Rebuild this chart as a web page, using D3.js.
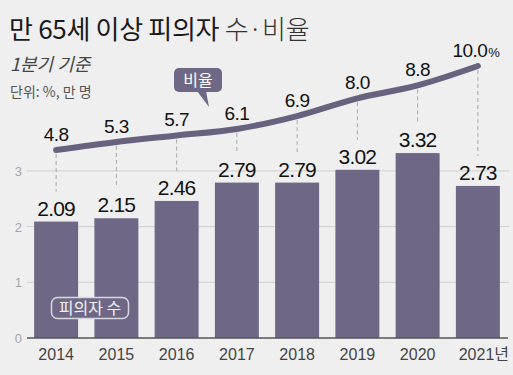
<!DOCTYPE html>
<html>
<head>
<meta charset="utf-8">
<script src="https://cdn.jsdelivr.net/npm/d3@7"></script>
<style>
  html, body { margin: 0; padding: 0; background: #efefef; }
  svg { display: block; }
  .num { font-family: "Liberation Sans", Arial, sans-serif; fill: #111; }
  .kr { font-family: "Noto Sans CJK KR", "Noto Sans", sans-serif; }
</style>
</head>
<body>
<div id="chart"></div>
<script>
// values
var years = ['2014', '2015', '2016', '2017', '2018', '2019', '2020', '2021'];
var yearLabels = ['2014', '2015', '2016', '2017', '2018', '2019', '2020', '2021년'];
var suspects = [2.09, 2.15, 2.46, 2.79, 2.79, 3.02, 3.32, 2.73];   // 만 명
var ratio = [4.8, 5.3, 5.7, 6.1, 6.9, 8.0, 8.8, 10.0];             // %
var yTicks = [0, 1, 2, 3];

var width = 513, height = 375;
var barColor = '#6e6886';
var lineColor = '#68627f';

var svg = d3.select('#chart').append('svg')
    .attr('width', width)
    .attr('height', height);

svg.append('rect')
    .attr('width', width)
    .attr('height', height)
    .attr('fill', '#efefef');

var x = d3.scaleBand()
    .domain(years)
    .range([26, 508])
    .paddingInner(0.27)
    .paddingOuter(0.135);

var y = d3.scaleLinear()
    .domain([0, 1])
    .range([338, 282.3]);

var yRate = d3.scaleLinear()
    .domain([4.8, 10.0])
    .range([150, 66]);

function cx(d) { return x(d) + x.bandwidth() / 2; }

// grid
svg.append('g')
    .selectAll('line')
    .data(yTicks.filter(function (t) { return t > 0; }))
    .join('line')
    .attr('x1', 27)
    .attr('x2', 509)
    .attr('y1', function (d) { return y(d); })
    .attr('y2', function (d) { return y(d); })
    .attr('stroke', '#cfcfcf')
    .attr('stroke-width', 1);

// y tick labels
svg.append('g')
    .selectAll('text')
    .data(yTicks)
    .join('text')
    .attr('class', 'num')
    .attr('x', 22)
    .attr('y', function (d) { return y(d) + 5; })
    .attr('text-anchor', 'end')
    .attr('font-size', 13)
    .style('fill', '#a5a5a5')
    .text(function (d) { return d; });

// dashed guides from line down to bar label
svg.append('g')
    .selectAll('line')
    .data(years)
    .join('line')
    .attr('x1', cx)
    .attr('x2', cx)
    .attr('y1', function (d, i) { return yRate(ratio[i]) + 4; })
    .attr('y2', function (d, i) { return y(suspects[i]) - 30; })
    .attr('stroke', '#a8a8a8')
    .attr('stroke-width', 1)
    .attr('stroke-dasharray', '4,3');

// bars
svg.append('g')
    .selectAll('rect')
    .data(years)
    .join('rect')
    .attr('x', function (d) { return x(d); })
    .attr('width', x.bandwidth())
    .attr('y', function (d, i) { return y(suspects[i]); })
    .attr('height', function (d, i) { return y(0) - y(suspects[i]); })
    .attr('fill', barColor);

// baseline
svg.append('line')
    .attr('x1', 27)
    .attr('x2', 508)
    .attr('y1', y(0))
    .attr('y2', y(0))
    .attr('stroke', '#555')
    .attr('stroke-width', 1.5);

// bar value labels
svg.append('g')
    .selectAll('text')
    .data(years)
    .join('text')
    .attr('class', 'num')
    .attr('x', cx)
    .attr('y', function (d, i) { return y(suspects[i]) - 6; })
    .attr('text-anchor', 'middle')
    .attr('font-size', 21)
    .attr('letter-spacing', -0.8)
    .text(function (d, i) { return suspects[i].toFixed(2); });

// year labels
svg.append('g')
    .selectAll('text')
    .data(years)
    .join('text')
    .attr('x', function (d, i) { return cx(d) + (i === years.length - 1 ? 6 : 0); })
    .attr('y', 360)
    .attr('text-anchor', 'middle')
    .attr('font-size', 16)
    .attr('fill', '#444')
    .attr('font-family', '"Liberation Sans", "Noto Sans CJK KR", sans-serif')
    .text(function (d, i) { return yearLabels[i]; });

// ratio line
var line = d3.line()
    .x(function (d, i) { return cx(years[i]); })
    .y(function (d) { return yRate(d); })
    .curve(d3.curveMonotoneX);

svg.append('path')
    .datum(ratio)
    .attr('d', line)
    .attr('fill', 'none')
    .attr('stroke', lineColor)
    .attr('stroke-width', 6)
    .attr('stroke-linecap', 'round');

// ratio labels
var rl = svg.append('g')
    .selectAll('text')
    .data(ratio)
    .join('text')
    .attr('class', 'num')
    .attr('x', function (d, i) { return cx(years[i]) + (i === ratio.length - 1 ? -2 : 0); })
    .attr('y', function (d) { return yRate(d) - 9; })
    .attr('text-anchor', 'middle')
    .attr('font-size', 19)
    .attr('letter-spacing', -0.6)
    .text(function (d) { return d.toFixed(1); });
rl.filter(function (d, i) { return i === ratio.length - 1; })
    .append('tspan')
    .attr('font-size', 13)
    .attr('dx', 1)
    .text('%');

// "비율" callout
var callout = svg.append('g');
callout.append('path')
    .attr('d', 'M197,91 L209,107 L206,91 Z')
    .attr('fill', barColor);
callout.append('rect')
    .attr('x', 174)
    .attr('y', 68)
    .attr('width', 48)
    .attr('height', 24)
    .attr('rx', 5)
    .attr('fill', barColor);
callout.append('text')
    .attr('class', 'kr')
    .attr('x', 198)
    .attr('y', 86)
    .attr('text-anchor', 'middle')
    .attr('font-size', 16)
    .attr('fill', '#fff')
    .text('비율');

// "피의자 수" tag
svg.append('rect')
    .attr('x', 51.5)
    .attr('y', 297.5)
    .attr('width', 77)
    .attr('height', 21)
    .attr('rx', 6)
    .attr('fill', barColor)
    .attr('stroke', '#d8d6e0')
    .attr('stroke-width', 1.5);
svg.append('text')
    .attr('class', 'kr')
    .attr('x', 90)
    .attr('y', 314)
    .attr('text-anchor', 'middle')
    .attr('font-size', 16)
    .attr('fill', '#f2f2f2')
    .text('피의자 수');

// title block
var title = svg.append('text')
    .attr('class', 'kr')
    .attr('x', 9)
    .attr('y', 39)
    .attr('font-size', 26)
    .attr('letter-spacing', -0.3);
title.append('tspan')
    .attr('font-weight', 400)
    .attr('fill', '#1a1a1a')
    .text('만 65세 이상 피의자 ');
title.append('tspan')
    .attr('font-weight', 300)
    .attr('fill', '#333')
    .text('수·비율');

svg.append('text')
    .attr('class', 'kr')
    .attr('x', 10)
    .attr('y', 71)
    .attr('font-size', 18)
    .attr('font-style', 'italic')
    .attr('fill', '#444')
    .text('1분기 기준');

svg.append('text')
    .attr('class', 'kr')
    .attr('x', 10)
    .attr('y', 97)
    .attr('font-size', 14)
    .attr('fill', '#555')
    .text('단위: %, 만 명');
</script>
</body>
</html>
